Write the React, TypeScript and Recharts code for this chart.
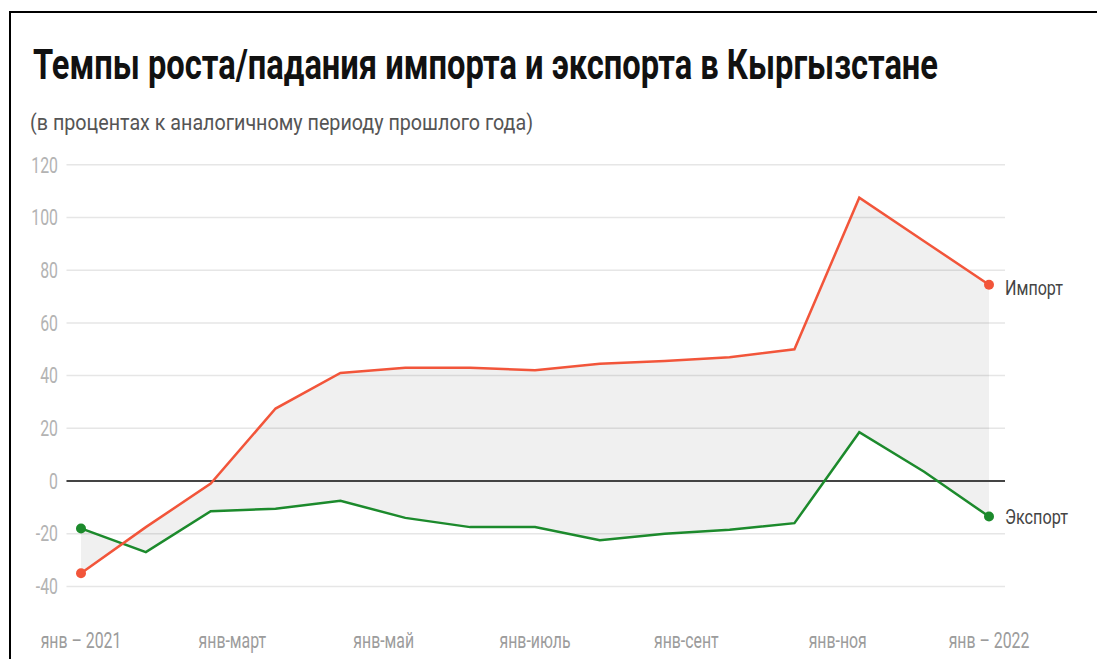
import React from 'react';
import { ComposedChart, Area, Line, XAxis, YAxis, CartesianGrid, ReferenceLine } from 'recharts';

const pointIndex = [0, 1, 2, 3, 4, 5, 6, 7, 8, 9, 10, 11, 12, 13, 14];
const importGrowth = [-35, -17.5, -1, 27.5, 41, 43, 43, 42, 44.5, 45.5, 47, 50, 107.5, 91, 74.5];
const exportGrowth = [-18, -27, -11.5, -10.5, -7.5, -14, -17.5, -17.5, -22.5, -20, -18.5, -16, 18.5, 3.5, -13.5];

const xTickValues = [0, 2.333, 4.667, 7, 9.333, 11.667, 14];
const xTickLabels = ['янв – 2021', 'янв-март', 'янв-май', 'янв-июль', 'янв-сент', 'янв-ноя', 'янв – 2022'];
const yTicks = [-40, -20, 0, 20, 40, 60, 80, 100, 120];

const seriesNames = { import: 'Импорт', export: 'Экспорт' };

const IMPORT_COLOR = '#f2553a';
const EXPORT_COLOR = '#1c8a2c';
const FONT = 'Roboto, "Noto Sans", sans-serif';

const data = pointIndex.map((i, k) => ({
  i,
  imp: importGrowth[k],
  exp: exportGrowth[k],
}));

const last = pointIndex.length - 1;

const YTick = (props: any) => {
  const { y, payload } = props;
  return (
    <text
      transform={`translate(58 ${y}) scale(0.72 1)`}
      textAnchor="end"
      dy="0.35em"
      fontSize={22}
      fontFamily={FONT}
      fill="#b3b3b3"
    >
      {payload.value}
    </text>
  );
};

const XTick = (props: any) => {
  const { x, payload } = props;
  const idx = xTickValues.findIndex(v => Math.abs(v - payload.value) < 0.01);
  return (
    <text
      transform={`translate(${x} 640) scale(0.72 1)`}
      textAnchor="middle"
      dy="0.35em"
      fontSize={22}
      fontFamily={FONT}
      fill="#9c9c9c"
    >
      {idx >= 0 ? xTickLabels[idx] : ''}
    </text>
  );
};

const makeDot = (color: string, label: string, labelWidth: number, dyLabel: number) => (props: any) => {
  const { cx, cy, index } = props;
  if (index !== 0 && index !== last) return <g key={`d${index}`} />;
  return (
    <g key={`d${index}`}>
      <circle cx={cx} cy={cy} r={5} fill={color} />
      {index === last && (
        <text
          x={cx + 16}
          y={cy + dyLabel}
          dy="0.35em"
          fontSize={20}
          fontFamily={FONT}
          fill="#444"
          textLength={labelWidth}
          lengthAdjust="spacingAndGlyphs"
        >
          {label}
        </text>
      )}
    </g>
  );
};

export default function App() {
  return (
    <div style={{ position: 'absolute', left: 0, top: 0, width: 1097, height: 659, overflow: 'hidden', background: '#fff' }}>
      <div
        style={{
          position: 'absolute',
          left: 9,
          top: 11,
          width: 1200,
          height: 800,
          borderTop: '2px solid #000',
          borderLeft: '2px solid #000',
        }}
      />
      <svg width={1097} height={150} style={{ position: 'absolute', left: 0, top: 0 }}>
        {/* condensed look: small font stretched vertically, then fitted to width */}
        <text
          transform="translate(33 79) scale(1 1.4)"
          fontSize={30}
          fontWeight={700}
          fontFamily={FONT}
          fill="#111"
          textLength={905}
          lengthAdjust="spacingAndGlyphs"
        >
          Темпы роста/падания импорта и экспорта в Кыргызстане
        </text>
        <text
          x={30}
          y={130}
          fontSize={22}
          fontFamily={FONT}
          fill="#555"
          textLength={503}
          lengthAdjust="spacingAndGlyphs"
        >
          (в процентах к аналогичному периоду прошлого года)
        </text>
      </svg>
      <div style={{ position: 'absolute', left: 0, top: 0 }}>
        <ComposedChart
          width={1097}
          height={659}
          data={data}
          margin={{ top: 164.8, right: 92, bottom: 32.6, left: 0 }}
        >
          <CartesianGrid vertical={false} stroke="#e6e6e6" strokeWidth={1.5} />
          <XAxis
            type="number"
            dataKey="i"
            domain={[0, 14]}
            ticks={xTickValues}
            interval={0}
            axisLine={false}
            tickLine={false}
            height={40}
            padding={{ left: 14.5, right: 16 }}
            tick={<XTick />}
          />
          <YAxis
            domain={[-40, 120]}
            ticks={yTicks}
            interval={0}
            axisLine={false}
            tickLine={false}
            width={66.5}
            tick={<YTick />}
          />
          <Area
            type="linear"
            dataKey={(d: any) => [d.exp, d.imp]}
            stroke="none"
            fill="#000"
            fillOpacity={0.06}
            isAnimationActive={false}
            activeDot={false}
          />
          <ReferenceLine y={0} stroke="#444" strokeWidth={2} />
          <Line
            type="linear"
            dataKey="exp"
            name={seriesNames.export}
            stroke={EXPORT_COLOR}
            strokeWidth={2.5}
            dot={makeDot(EXPORT_COLOR, seriesNames.export, 63, 0)}
            activeDot={false}
            isAnimationActive={false}
          />
          <Line
            type="linear"
            dataKey="imp"
            name={seriesNames.import}
            stroke={IMPORT_COLOR}
            strokeWidth={2.5}
            dot={makeDot(IMPORT_COLOR, seriesNames.import, 58, 3)}
            activeDot={false}
            isAnimationActive={false}
          />
        </ComposedChart>
      </div>
    </div>
  );
}
